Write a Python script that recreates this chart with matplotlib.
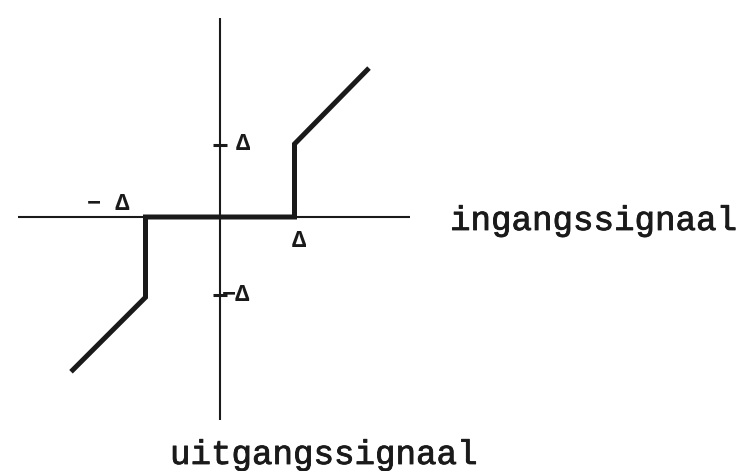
import matplotlib
matplotlib.use("Agg")
import matplotlib.pyplot as plt
import matplotlib.patheffects as pe

# Dead-zone characteristic (in units of the threshold delta)
curve_x = [-2.0, -1.0, -1.0, 1.0, 1.0, 2.0]
curve_y = [-2.12, -1.1, 0.0, 0.0, 1.0, 2.04]

# Axis extents
x_axis = [-2.71, 2.55]
y_axis = [-2.78, 2.73]

tick_y = [0.99, -1.07]

X0, Y0, SX, SY = 220.0, 217.0, 74.5, 73.0

fig = plt.figure(figsize=(7.44, 4.71), dpi=100)
ax = fig.add_axes([0, 0, 1, 1])
ax.set_xlim(-X0 / SX, (744 - X0) / SX)
ax.set_ylim((Y0 - 471) / SY, Y0 / SY)
ax.axis("off")

ink = "#1a1a1a"
mono = ["Liberation Mono", "DejaVu Sans Mono"]
heavy = [pe.withStroke(linewidth=0.6, foreground=ink)]

ax.plot(x_axis, [0, 0], color=ink, lw=1.5, solid_capstyle="butt")
ax.plot([0, 0], y_axis, color=ink, lw=1.5, solid_capstyle="butt")
ax.plot(curve_x, curve_y, color=ink, lw=3.6, solid_joinstyle="miter",
        solid_capstyle="butt")

for ty in tick_y:
    ax.plot([-0.09, 0.09], [ty, ty], color=ink, lw=2.2, solid_capstyle="butt")

lab = dict(color=ink, fontsize=17, family=mono, va="center",
           fontweight="bold")
ax.text(0.31, 1.0, "Δ", ha="center", **lab)
ax.text(0.03, -1.06, "−Δ", ha="left", **lab)
ax.text(1.06, -0.32, "Δ", ha="center", **lab)
ax.text(-1.50, 0.18, "− Δ", ha="center", **lab)

txt = dict(fontsize=24.6, family=mono, color=ink, va="baseline", ha="left",
           path_effects=heavy)
ax.text((450 - X0) / SX, (Y0 - 230) / SY, "ingangssignaal", **txt)
ax.text((170 - X0) / SX, (Y0 - 464) / SY, "uitgangssignaal", **txt)

fig.savefig("out.png", dpi=100, facecolor="white")
